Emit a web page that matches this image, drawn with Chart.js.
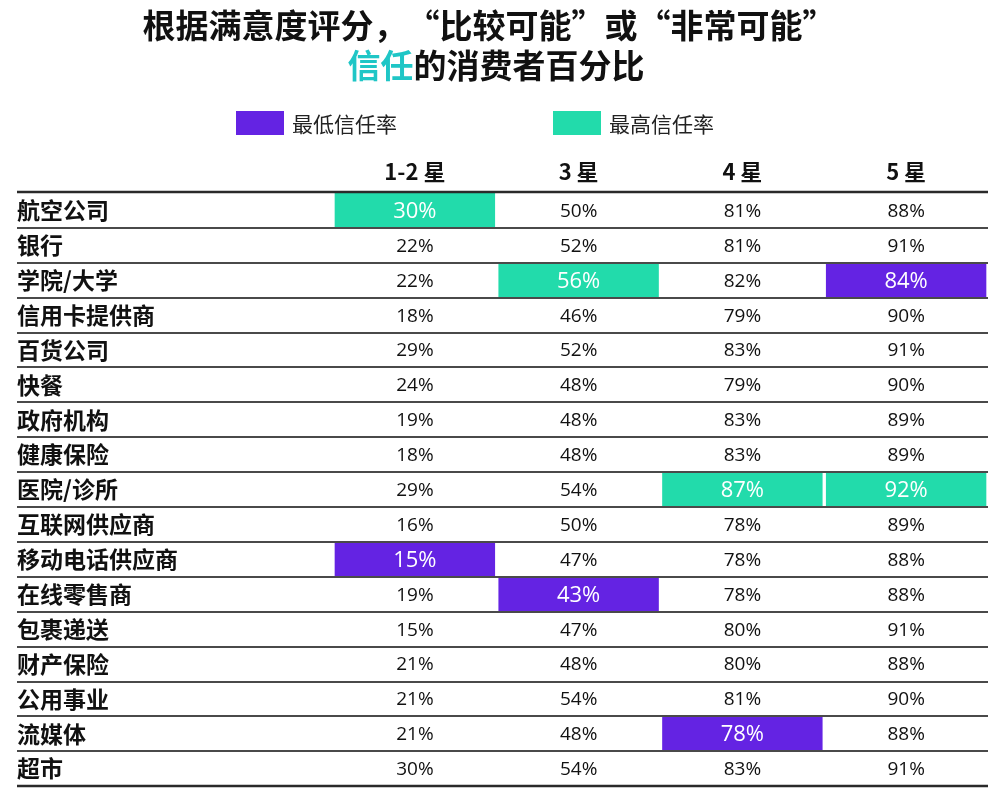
<!DOCTYPE html>
<html>
<head>
<meta charset="utf-8">
<script src="https://cdn.jsdelivr.net/npm/chart.js@4.4.1/dist/chart.umd.min.js"></script>
<style>
html, body { margin: 0; padding: 0; background: #fff; }
</style>
</head>
<body>
<canvas id="trustChart" width="1000" height="800"></canvas>
<script>
// rows / columns of the table
var rowNames = ['航空公司', '银行', '学院/大学', '信用卡提供商', '百货公司', '快餐', '政府机构', '健康保险',
	'医院/诊所', '互联网供应商', '移动电话供应商', '在线零售商', '包裹递送', '财产保险', '公用事业', '流媒体', '超市'];
var colNames = ['1-2 星', '3 星', '4 星', '5 星'];

// percent values per column
var star12 = [30, 22, 22, 18, 29, 24, 19, 18, 29, 16, 15, 19, 15, 21, 21, 21, 30];
var star3 = [50, 52, 56, 46, 52, 48, 48, 48, 54, 50, 47, 43, 47, 48, 54, 48, 54];
var star4 = [81, 81, 82, 79, 83, 79, 83, 83, 87, 78, 78, 78, 80, 80, 81, 78, 83];
var star5 = [88, 91, 84, 90, 91, 90, 89, 89, 92, 89, 88, 88, 91, 88, 90, 88, 91];

// highlighted row in each column
var lowestRows = ['移动电话供应商', '在线零售商', '流媒体', '学院/大学'];
var highestRows = ['航空公司', '学院/大学', '医院/诊所', '医院/诊所'];

var purple = '#6423e3';
var teal = '#22dbab';
var titleTeal = '#1fc6c6';

var columns = [star12, star3, star4, star5];

function cellData(rowList) {
	return rowList.map(function(r, c) {
		return { x: [c, c + 1], y: r };
	});
}

function isHighlighted(rowName, c) {
	return lowestRows[c] === rowName || highestRows[c] === rowName;
}

var tablePlugin = {
	id: 'tablePlugin',
	afterDatasetsDraw: function(chart) {
		var ctx = chart.ctx;
		var xs = chart.scales.x;
		var ys = chart.scales.y;
		var rowH = ys.getPixelForValue(1) - ys.getPixelForValue(0);

		// cell values
		ctx.save();
		ctx.textAlign = 'center';
		ctx.textBaseline = 'middle';
		for (var c = 0; c < columns.length; c++) {
			for (var i = 0; i < rowNames.length; i++) {
				var x = xs.getPixelForValue(c + 0.5);
				var y = ys.getPixelForValue(i);
				if (isHighlighted(rowNames[i], c)) {
					ctx.fillStyle = '#ffffff';
					ctx.font = '22px "Open Sans"';
				} else {
					ctx.fillStyle = '#111111';
					ctx.font = '19px "Open Sans"';
				}
				ctx.fillText(columns[c][i] + '%', x, y + 1);
			}
		}

		// row separators
		for (var k = 0; k <= rowNames.length; k++) {
			var ly = Math.round(ys.getPixelForValue(0) - rowH / 2 + k * rowH);
			if (k === 0) ly -= 1;
			ctx.beginPath();
			ctx.strokeStyle = (k === 0 || k === rowNames.length) ? '#2a2a2a' : '#4a4a4a';
			ctx.lineWidth = (k === 0 || k === rowNames.length) ? 2.5 : 2;
			ctx.moveTo(17, ly);
			ctx.lineTo(xs.right, ly);
			ctx.stroke();
		}
		ctx.restore();
	},
	afterDraw: function(chart) {
		var ctx = chart.ctx;
		ctx.save();
		ctx.textBaseline = 'middle';

		// title
		ctx.fillStyle = '#111111';
		ctx.textAlign = 'center';
		ctx.font = 'bold 33px "Noto Sans CJK SC"';
		ctx.fillText('根据满意度评分，“比较可能”或“非常可能”', 489, 25);

		ctx.textAlign = 'left';
		ctx.font = 'bold 33px "Noto Sans CJK SC"';
		var partA = '信任';
		var partB = '的消费者百分比';
		var wA = ctx.measureText(partA).width;
		var wB = ctx.measureText(partB).width;
		var sx = 496 - (wA + wB) / 2;
		ctx.fillStyle = titleTeal;
		ctx.fillText(partA, sx, 65);
		ctx.fillStyle = '#111111';
		ctx.fillText(partB, sx + wA, 65);

		// legend
		var legendX = [236, 553];
		ctx.font = '21px "Noto Sans CJK SC"';
		chart.data.datasets.forEach(function(ds, d) {
			ctx.fillStyle = ds.backgroundColor;
			ctx.fillRect(legendX[d], 111, 48, 24);
			ctx.fillStyle = '#222222';
			ctx.fillText(ds.label, legendX[d] + 56, 124);
		});
		ctx.restore();
	}
};

var ctx = document.getElementById('trustChart').getContext('2d');
var myChart = new Chart(ctx, {
	type: 'bar',
	data: {
		labels: rowNames,
		datasets: [{
			label: '最低信任率',
			data: cellData(lowestRows),
			backgroundColor: purple,
			borderColor: '#ffffff',
			borderWidth: { left: 2, right: 2, top: 0, bottom: 0 },
			borderSkipped: false,
			grouped: false,
			barPercentage: 1,
			categoryPercentage: 1
		}, {
			label: '最高信任率',
			data: cellData(highestRows),
			backgroundColor: teal,
			borderColor: '#ffffff',
			borderWidth: { left: 2, right: 2, top: 0, bottom: 0 },
			borderSkipped: false,
			grouped: false,
			barPercentage: 1,
			categoryPercentage: 1
		}]
	},
	options: {
		indexAxis: 'y',
		responsive: false,
		animation: false,
		layout: {
			padding: { left: 17, right: 12, top: 153, bottom: 12 }
		},
		plugins: {
			legend: { display: false },
			tooltip: { enabled: false }
		},
		scales: {
			x: {
				type: 'linear',
				position: 'top',
				min: 0,
				max: 4,
				afterBuildTicks: function(scale) {
					scale.ticks = colNames.map(function(n, i) { return { value: i + 0.5 }; });
				},
				afterFit: function(scale) {
					scale.height = 40;
				},
				ticks: {
					autoSkip: false,
					maxRotation: 0,
					padding: 8,
					color: '#111111',
					font: { family: '"Noto Sans CJK SC"', size: 22, weight: 'bold' },
					callback: function(value) {
						return colNames[Math.floor(value)];
					}
				},
				grid: { display: false, drawTicks: false },
				border: { display: false }
			},
			y: {
				type: 'category',
				afterFit: function(scale) {
					scale.width = 316;
				},
				ticks: {
					crossAlign: 'far',
					padding: 0,
					color: '#111111',
					font: { family: '"Noto Sans CJK SC"', size: 23, weight: 'bold' }
				},
				grid: { display: false, drawTicks: false },
				border: { display: false }
			}
		}
	},
	plugins: [tablePlugin]
});
</script>
</body>
</html>
